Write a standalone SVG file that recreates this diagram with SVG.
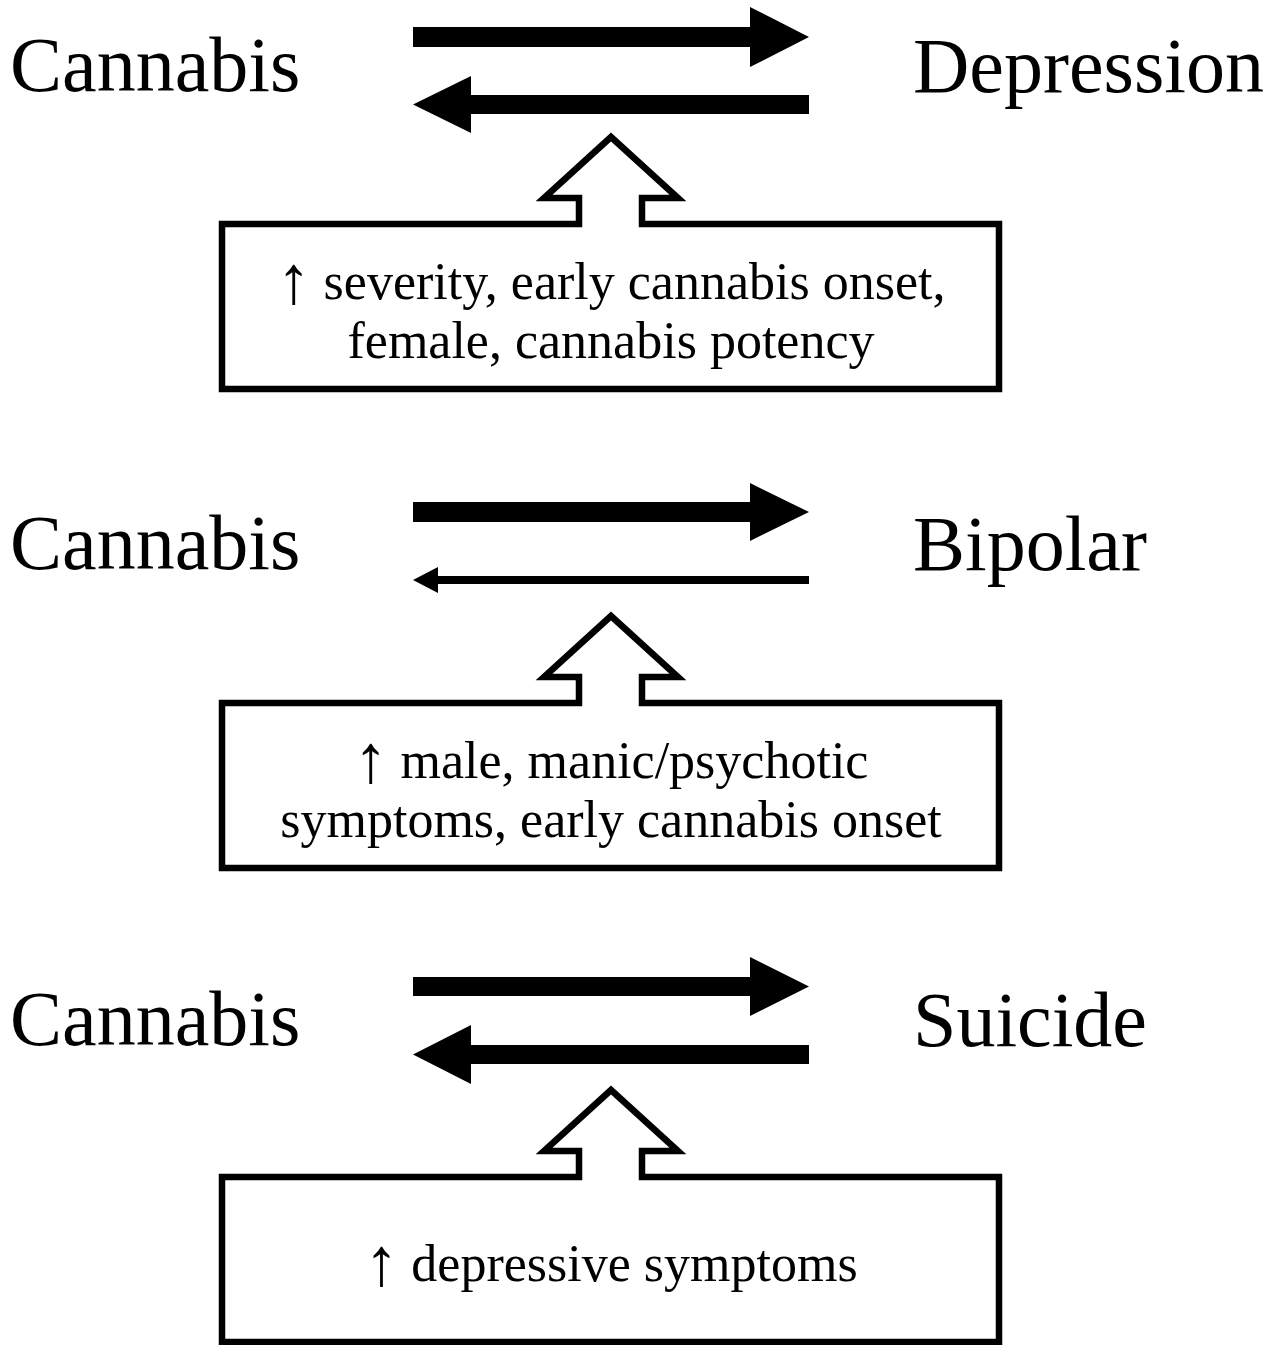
<svg xmlns="http://www.w3.org/2000/svg" width="1288" height="1345" viewBox="0 0 1288 1345">
  <style>
    .big { font-family: "Liberation Serif", "Times New Roman", serif; font-size: 78px; fill: #000; }
    .lbl { font-family: "Liberation Serif", "Times New Roman", serif; font-size: 52px; fill: #000; text-anchor: middle; }
    .up { font-size: 68px; }
    .box { fill: #fff; stroke: #000; stroke-width: 6.5; stroke-linejoin: miter; stroke-miterlimit: 10; }
    .arr { fill: #000; stroke: none; }
  </style>
  <rect width="1288" height="1345" fill="#fff"/>

  <!-- Panel 1 -->
  <g id="cannabis1"><text class="big" x="10" y="91">Cannabis</text></g>
  <g id="depression"><text class="big" x="913" y="92">Depression</text></g>
  <g id="moderators1">
    <path class="box" d="M222 224 L579 224 L579 198 L544 198 L611 137 L678 198 L642 198 L642 224 L999 224 L999 389 L222 389 Z"/>
    <text class="lbl" x="611" y="299"><tspan class="up" baseline-shift="-4px">↑</tspan> severity, early cannabis onset,</text>
    <text class="lbl" x="611" y="358">female, cannabis potency</text>
  </g>

  <!-- Panel 2 -->
  <g id="cannabis2"><text class="big" x="10" y="569">Cannabis</text></g>
  <g id="bipolar"><text class="big" x="913" y="570">Bipolar</text></g>
  <g id="moderators2">
    <path class="box" d="M222 703 L579 703 L579 677 L544 677 L611 616 L678 677 L642 677 L642 703 L999 703 L999 868 L222 868 Z"/>
    <text class="lbl" x="611" y="778"><tspan class="up" baseline-shift="-4px">↑</tspan> male, manic/psychotic</text>
    <text class="lbl" x="611" y="837">symptoms, early cannabis onset</text>
  </g>

  <!-- Panel 3 -->
  <g id="cannabis3"><text class="big" x="10" y="1045">Cannabis</text></g>
  <g id="suicide"><text class="big" x="913" y="1046">Suicide</text></g>
  <g id="moderators3">
    <path class="box" d="M222 1177 L579 1177 L579 1151 L544 1151 L611 1090 L678 1151 L642 1151 L642 1177 L999 1177 L999 1342 L222 1342 Z"/>
    <text class="lbl" x="611" y="1281"><tspan class="up" baseline-shift="-4px">↑</tspan> depressive symptoms</text>
  </g>

  <!-- Connectors -->
  <g id="connectors">
    <polygon class="arr" points="413,27 750,27 750,7 809,37 750,67 750,47 413,47"/>
    <polygon class="arr" points="413,104.5 471,76 471,95 809,95 809,114 471,114 471,133"/>
    <polygon class="arr" points="413,502 750,502 750,483 809,512 750,541 750,522 413,522"/>
    <polygon class="arr" points="413,580 438,567 438,576 809,576 809,584 438,584 438,593"/>
    <polygon class="arr" points="413,977 750,977 750,957 809,986.5 750,1016 750,996 413,996"/>
    <polygon class="arr" points="413,1054.5 471,1025 471,1045 809,1045 809,1064 471,1064 471,1084"/>
  </g>
</svg>
